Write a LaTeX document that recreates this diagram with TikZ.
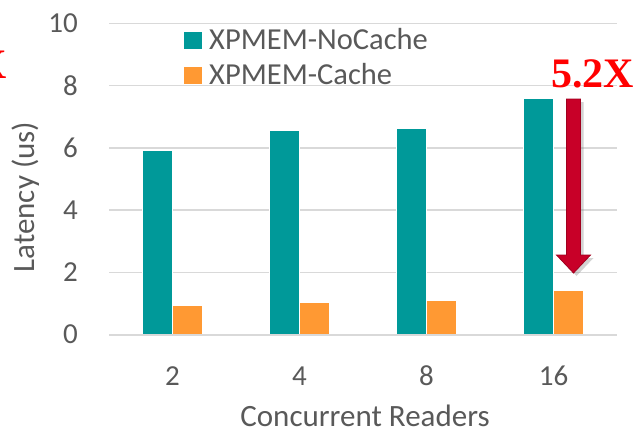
\documentclass[tikz,border=0pt]{standalone}
\usepackage{fontspec}
\setmainfont{Carlito}
\newfontfamily\redserif{Liberation Serif}
\usetikzlibrary{shadows}
\definecolor{nocache}{RGB}{0,153,153}
\definecolor{cache}{RGB}{255,153,51}
\definecolor{gridgray}{RGB}{217,217,217}
\definecolor{ticktext}{RGB}{89,89,89}
\definecolor{arrowred}{RGB}{200,0,40}
\definecolor{arrowedge}{RGB}{160,0,30}
\begin{document}
\begin{tikzpicture}[x=1pt,y=-1pt,
  ticklabel/.style={text=ticktext,inner sep=0,font=\fontsize{29}{29}\selectfont},
  axistitle/.style={text=ticktext,inner sep=0,font=\fontsize{31}{31}\selectfont},
  legendtext/.style={text=ticktext,inner sep=0,font=\fontsize{30.5}{30.5}\selectfont},
  factortext/.style={text=red,inner sep=0,font=\redserif\bfseries\fontsize{42}{42}\selectfont}]
\clip (0,0) rectangle (635,432);
% grid
\draw[gridgray,line width=1.5] (109,23.5) -- (617,23.5);
\draw[gridgray,line width=1.5] (109,85.7) -- (617,85.7);
\draw[gridgray,line width=1.5] (109,147.9) -- (617,147.9);
\draw[gridgray,line width=1.5] (109,210.1) -- (617,210.1);
\draw[gridgray,line width=1.5] (109,272.3) -- (617,272.3);
\node[ticklabel,anchor=east] (y10) at (78,23.5){10};
\node[ticklabel,anchor=east] (y8) at (78,85.7){8};
\node[ticklabel,anchor=east] (y6) at (78,147.9){6};
\node[ticklabel,anchor=east] (y4) at (78,210.1){4};
\node[ticklabel,anchor=east] (y2) at (78,272.3){2};
\node[ticklabel,anchor=east] (y0) at (78,334.5){0};
% bars
\fill[nocache][draw=white,line width=.6] (142,334.5) rectangle (172,150);
\fill[cache][draw=white,line width=.6] (172,334.5) rectangle (202,305.5);
\fill[nocache][draw=white,line width=.6] (269,334.5) rectangle (299,130);
\fill[cache][draw=white,line width=.6] (299,334.5) rectangle (329,302.5);
\fill[nocache][draw=white,line width=.6] (396,334.5) rectangle (426,128);
\fill[cache][draw=white,line width=.6] (426,334.5) rectangle (456,300.5);
\fill[nocache][draw=white,line width=.6] (523,334.5) rectangle (553,98.5);
\fill[cache][draw=white,line width=.6] (553,334.5) rectangle (583,290.5);
\draw[gridgray,line width=2] (109,334.5) -- (617,334.5);
\node[ticklabel] (x2) at (172.5,376){2};
\node[ticklabel] (x4) at (299.5,376){4};
\node[ticklabel] (x8) at (426.5,376){8};
\node[ticklabel] (x16) at (553.5,376){16};
% titles
\node[axistitle,anchor=base] (xtitle) at (365,426){Concurrent Readers};
\node[axistitle,rotate=90] (ytitle) at (26,197){Latency (us)};
% legend
\fill[nocache] (184,32) rectangle (202,49);
\node[legendtext,anchor=base west] (legnocache) at (209,49){XPMEM-NoCache};
\fill[cache] (184,67) rectangle (202,84);
\node[legendtext,anchor=base west] (legcache) at (209,84){XPMEM-Cache};
% speedup
\fill[arrowred][draw=arrowedge,line width=.8,drop shadow={opacity=.35,shadow xshift=3pt,shadow yshift=-3pt}]
  (566.5,99) -- (580.5,99) -- (580.5,255) -- (590.5,255) -- (573.5,273) -- (556.5,255) -- (566.5,255) -- cycle;
\node[factortext,anchor=base] (factor) at (592.5,87){5.2X};
\node[factortext,anchor=base east] (leftfactor) at (7,78){X};
\end{tikzpicture}
\end{document}
